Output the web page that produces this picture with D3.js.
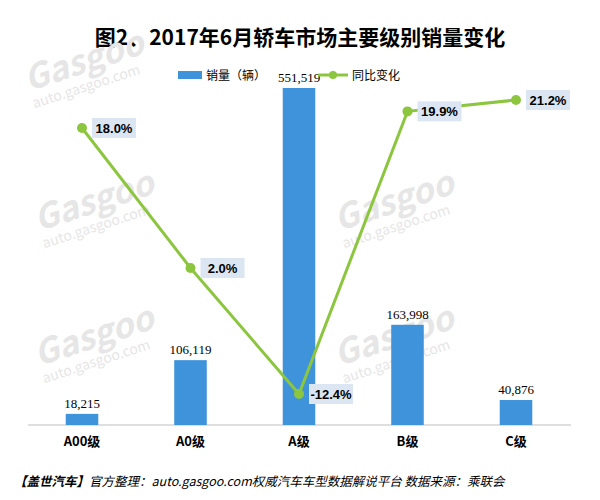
<!DOCTYPE html>
<meta charset="utf-8">
<style>
body { margin: 0; background: #fff; }
text { font-family: "Noto Sans CJK SC", sans-serif; }
</style>
<body>
<script src="https://cdnjs.cloudflare.com/ajax/libs/d3/7.8.5/d3.min.js"></script>
<script>
var categories = ["A00级", "A0级", "A级", "B级", "C级"];
var sales = [18215, 106119, 551519, 163998, 40876];
var yoy = [18.0, 2.0, -12.4, 19.9, 21.2];

var svg = d3.select("body").append("svg").attr("width", 600).attr("height", 500);

svg.append("text").attr("x", 300).attr("y", 45).attr("text-anchor", "middle")
    .style("font-size", "21px").style("font-weight", "bold")
    .text("图2、2017年6月轿车市场主要级别销量变化");

// watermarks
[[30, 95], [40, 235], [40, 370], [340, 235], [340, 370]].forEach(function(p) {
  var g = svg.append("g").attr("transform", "translate(" + p[0] + "," + p[1] + ") rotate(-18)")
      .attr("fill", "#e6e6e6");
  g.append("text").attr("y", -4).style("font-size", "34px").style("font-style", "italic")
      .style("font-weight", "bold").text("Gasgoo");
  g.append("text").attr("y", 14).style("font-size", "14px").text("auto.gasgoo.com");
});

var x = d3.scaleBand().domain(categories).range([27.75, 570.25]).paddingInner(0.7).paddingOuter(0.35);
var y = d3.scaleLinear().domain([0, 551519]).range([425, 88]);
var y2 = d3.scaleLinear().domain([-15, 25]).range([416.75, 66.75]);

svg.append("line").attr("x1", 28).attr("x2", 571).attr("y1", 425).attr("y2", 425)
    .attr("stroke", "#bfbfbf");

svg.selectAll("rect.bar").data(sales).enter().append("rect")
    .attr("x", function(d, i) { return x(categories[i]); })
    .attr("y", function(d) { return y(d); })
    .attr("width", x.bandwidth())
    .attr("height", function(d) { return 425 - y(d); })
    .attr("fill", "#3e93db");

svg.selectAll("text.val").data(sales).enter().append("text")
    .attr("x", function(d, i) { return x(categories[i]) + x.bandwidth() / 2; })
    .attr("y", function(d) { return y(d) - 6; })
    .attr("text-anchor", "middle")
    .style("font-family", "Liberation Serif").style("font-size", "13px")
    .text(function(d) { return d3.format(",")(d); });

svg.selectAll("text.cat").data(categories).enter().append("text")
    .attr("x", function(d) { return x(d) + x.bandwidth() / 2; })
    .attr("y", 446).attr("text-anchor", "middle")
    .style("font-size", "13px").style("font-weight", "bold")
    .text(function(d) { return d; });

var cx = function(d, i) { return x(categories[i]) + x.bandwidth() / 2; };
svg.append("path").datum(yoy)
    .attr("d", d3.line().x(cx).y(function(d) { return y2(d); }))
    .attr("fill", "none").attr("stroke", "#8cc63f").attr("stroke-width", 3);
svg.selectAll("circle").data(yoy).enter().append("circle")
    .attr("cx", cx).attr("cy", function(d) { return y2(d); })
    .attr("r", 5).attr("fill", "#8cc63f");

var lab = svg.selectAll("g.lab").data(yoy).enter().append("g")
    .attr("transform", function(d, i) { return "translate(" + (cx(d, i) + 6) + "," + y2(d) + ")"; });
lab.append("rect").attr("x", 4).attr("y", -10).attr("width", 44).attr("height", 20).attr("fill", "#dce6f2");
lab.append("text").attr("x", 26).attr("y", 5).attr("text-anchor", "middle")
    .style("font-family", "Liberation Sans").style("font-size", "13px").style("font-weight", "bold")
    .text(function(d) { return d.toFixed(1) + "%"; });

// legend
svg.append("rect").attr("x", 178).attr("y", 71).attr("width", 24).attr("height", 8).attr("fill", "#3e93db");
svg.append("text").attr("x", 206).attr("y", 80).style("font-size", "12px").text("销量（辆）");
svg.append("line").attr("x1", 318).attr("x2", 348).attr("y1", 75).attr("y2", 75).attr("stroke", "#8cc63f").attr("stroke-width", 3);
svg.append("circle").attr("cx", 333).attr("cy", 75).attr("r", 4).attr("fill", "#8cc63f");
svg.append("text").attr("x", 352).attr("y", 80).style("font-size", "12px").text("同比变化");

var f = svg.append("text").attr("x", 14).attr("y", 486).style("font-size", "12.5px").style("font-style", "italic");
f.append("tspan").style("font-weight", "bold").text("【盖世汽车】");
f.append("tspan").text("官方整理：auto.gasgoo.com权威汽车车型数据解说平台 数据来源：乘联会");
</script>
